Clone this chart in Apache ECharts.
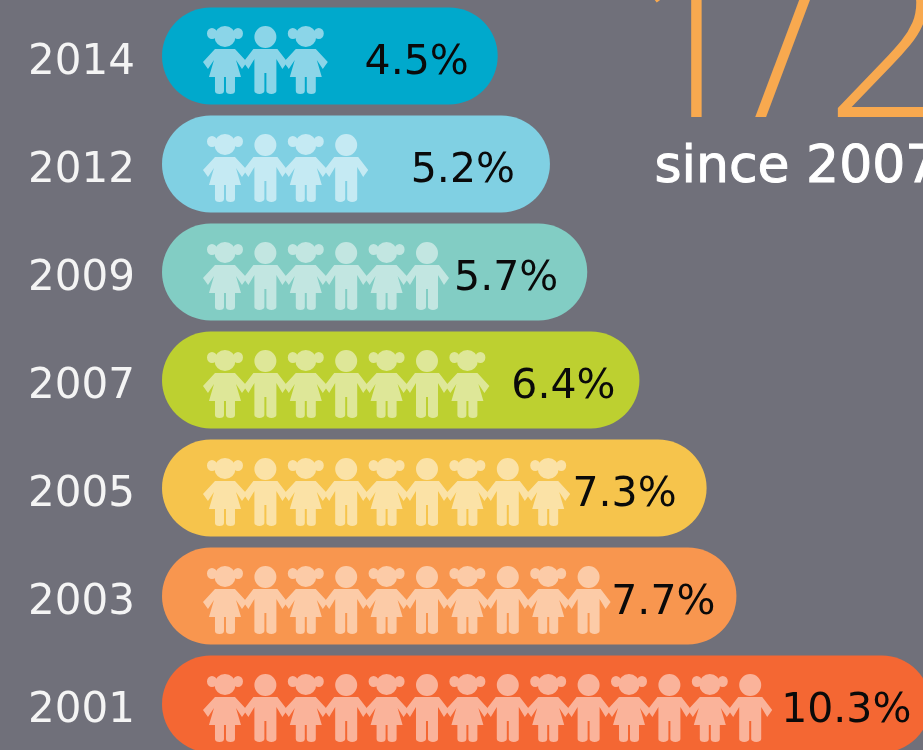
<!DOCTYPE html>
<html>
<head>
<meta charset="utf-8">
<style>
  html, body { margin: 0; padding: 0; background: #70707a; }
  #main { width: 923px; height: 750px; }
</style>
<script src="https://cdn.jsdelivr.net/npm/echarts@6/dist/echarts.min.js"></script>
</head>
<body>
<div id="main"></div>
<script>
var years = ['2014', '2012', '2009', '2007', '2005', '2003', '2001'];
var rates = [4.5, 5.2, 5.7, 6.4, 7.3, 7.7, 10.3];
var childCounts = [3, 4, 6, 7, 9, 10, 14];
var barColors = ['#00a9cc', '#80d0e3', '#82cdc4', '#bdd030', '#f6c44c', '#f8964f', '#f46733'];
var childColors = ['#8bd5e8', '#c5eaf3', '#c2e6e1', '#dee798', '#fbe2a6', '#fccba7', '#fab39a'];
// gap between the end of the bar and its label, differs per bar in the original
var labelInsets = [29, 35, 29, 24, 30, 21, 19];

var girlPath = 'path://M22 0a10.5 10.5 0 1 1 -.01 0z' +
  'M9 2a5 5.5 0 1 1 -.01 0zM35 2a5 5.5 0 1 1 -.01 0z' +
  'M12 23L32 23L44 36L39 43L33 34L38 51L32 51L32 65a4.5 3 0 0 1 -9 0L23 51L21 51L21 65a4.5 3 0 0 1 -9 0L12 51L6 51L11 34L5 43L0 36z';
var boyPath = 'path://M22 0a11 11 0 1 1 -.01 0z' +
  'M10 23L34 23L44 36L39 43L33 33L33 65a5 3 0 0 1 -10 0L23 47L21 47L21 65a5 3 0 0 1 -10 0L11 33L5 43L0 36z';

var girls = [], boys = [];
childCounts.forEach(function (n, row) {
  for (var i = 0; i < n; i++) {
    (i % 2 === 0 ? girls : boys).push([i, years[row]]);
  }
});

function childSeries(name, path, data) {
  return {
    name: name,
    type: 'scatter',
    xAxisIndex: 1,
    yAxisIndex: 0,
    symbol: path,
    symbolKeepAspect: false,
    symbolSize: [44, 68],
    symbolOffset: [0, 4],
    silent: true,
    z: 3,
    itemStyle: {
      opacity: 1,
      color: function (p) { return childColors[years.indexOf(p.value[1])]; }
    },
    data: data
  };
}

var chart = echarts.init(document.getElementById('main'));
chart.setOption({
  backgroundColor: '#70707a',
  animation: false,
  textStyle: { fontFamily: 'DejaVu Sans' },
  // the last bar runs past the edge of the picture
  grid: { left: 162, top: 2, width: 768.4, height: 756, outerBoundsMode: 'none' },
  xAxis: [
    { type: 'value', min: 0, max: 10.3, show: false },
    // child slots, 40.4px apart, first one centred at x=225
    { type: 'value', min: -1.559, max: 17.46, show: false }
  ],
  yAxis: {
    type: 'category',
    inverse: true,
    data: years,
    axisLine: { show: false },
    axisTick: { show: false },
    splitLine: { show: false },
    axisLabel: {
      margin: 27,
      formatter: '{year|{value}}',
      rich: {
        year: { color: '#f4f4f4', fontSize: 42, padding: [14, 0, 0, 0], fontFamily: 'DejaVu Sans' }
      }
    }
  },
  series: [
    {
      name: 'Rate',
      type: 'bar',
      barWidth: 97,
      itemStyle: { borderRadius: 48.5 },
      data: rates.map(function (v, i) {
        return {
          value: v,
          itemStyle: { color: barColors[i] },
          label: {
            show: true,
            position: 'insideRight',
            distance: labelInsets[i],
            offset: [0, 7],
            formatter: '{c}%',
            color: '#0a0a0a',
            fontSize: 41,
            fontFamily: 'DejaVu Sans'
          }
        };
      })
    },
    childSeries('Girls', girlPath, girls),
    childSeries('Boys', boyPath, boys)
  ],
  graphic: [
    {
      type: 'text',
      left: 630,
      top: -52,
      style: { text: '1/2', fill: '#f8a94f', font: '300 215px "Open Sans"' }
    },
    {
      type: 'text',
      left: 654,
      top: 142,
      style: { text: 'since 2007', fill: '#ffffff', stroke: '#ffffff', lineWidth: 1, font: '52px "DejaVu Sans"' }
    }
  ]
});
</script>
</body>
</html>
